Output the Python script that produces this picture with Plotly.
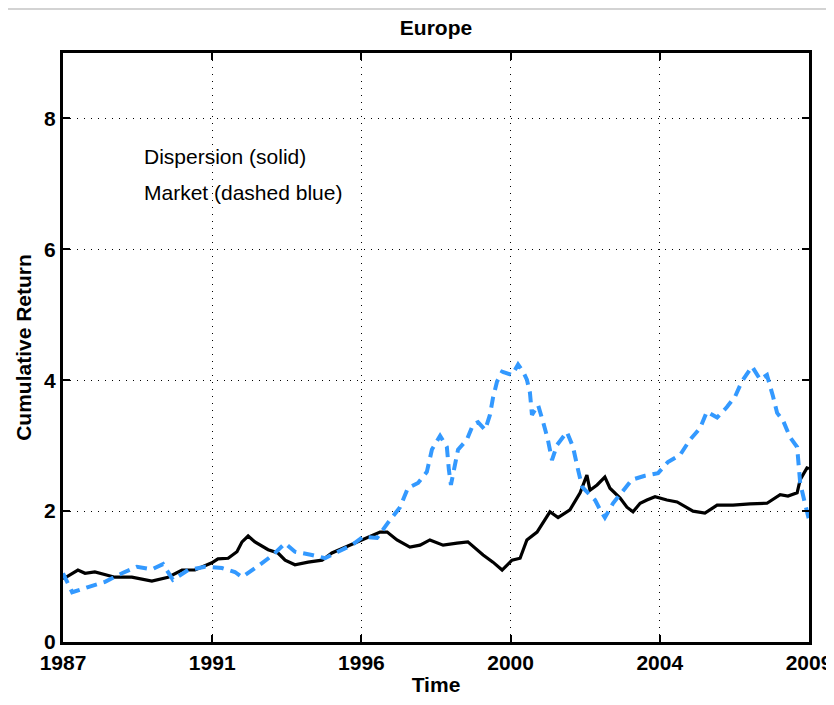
import plotly.graph_objects as go

# ---- data ----
disp_x = [1987.00, 1987.06, 1987.44, 1987.65, 1987.94, 1988.53, 1989.03, 1989.62, 1990.10,
          1990.51, 1990.89, 1991.39, 1991.57, 1991.87, 1992.13, 1992.28, 1992.46, 1992.66,
          1993.05, 1993.34, 1993.55, 1993.84, 1994.23, 1994.64, 1994.93, 1995.32, 1995.67,
          1996.35, 1996.56, 1996.85, 1997.23, 1997.53, 1997.82, 1998.21, 1998.62, 1998.94,
          1999.39, 1999.68, 1999.95, 2000.24, 2000.48, 2000.68, 2000.98, 2001.36, 2001.60,
          2001.95, 2002.25, 2002.45, 2002.54, 2002.75, 2002.98, 2003.13, 2003.43, 2003.63,
          2003.81, 2004.02, 2004.22, 2004.46, 2004.81, 2005.11, 2005.58, 2005.93, 2006.29,
          2006.76, 2007.26, 2007.76, 2008.15, 2008.38, 2008.65, 2008.74, 2008.94, 2009.00]
disp_y = [0.97, 0.98, 1.10, 1.05, 1.07, 0.99, 0.99, 0.93, 0.99,
          1.10, 1.10, 1.21, 1.27, 1.28, 1.38, 1.53, 1.62, 1.53,
          1.41, 1.36, 1.25, 1.18, 1.22, 1.25, 1.36, 1.45, 1.53,
          1.68, 1.68, 1.56, 1.45, 1.48, 1.56, 1.48, 1.51, 1.53,
          1.33, 1.22, 1.10, 1.25, 1.28, 1.56, 1.68, 1.99, 1.90,
          2.02, 2.28, 2.55, 2.32, 2.40, 2.52, 2.35, 2.20, 2.06,
          1.99, 2.12, 2.17, 2.22, 2.17, 2.14, 2.00, 1.97, 2.09,
          2.09, 2.11, 2.12, 2.25, 2.23, 2.28, 2.48, 2.66, 2.65]

mkt_x = [1987.00, 1987.27, 1987.74, 1988.24, 1988.74, 1989.18, 1989.62, 1989.95, 1990.24,
         1990.69, 1991.19, 1991.69, 1992.07, 1992.28, 1992.75, 1993.19, 1993.55, 1993.84,
         1994.34, 1994.73, 1995.11, 1995.38, 1995.52, 1995.85, 1996.26, 1996.58, 1996.94,
         1997.17, 1997.47, 1997.73, 1997.88, 1998.12, 1998.32, 1998.38, 1998.44, 1998.65,
         1998.91, 1999.09, 1999.24, 1999.45, 1999.59, 1999.68, 1999.80, 1999.95, 2000.24,
         2000.42, 2000.57, 2000.68, 2000.77, 2000.83, 2001.01, 2001.16, 2001.30, 2001.42,
         2001.57, 2001.86, 2002.04, 2002.19, 2002.31, 2002.48, 2002.69, 2002.84, 2002.98,
         2003.22, 2003.49, 2003.78, 2004.16, 2004.55, 2004.84, 2005.20, 2005.49, 2005.79,
         2005.99, 2006.29, 2006.58, 2006.82, 2007.02, 2007.32, 2007.56, 2007.76, 2007.94,
         2008.06, 2008.23, 2008.44, 2008.65, 2008.68, 2008.74, 2008.88, 2008.97, 2009.00]
mkt_y = [1.05, 0.76, 0.84, 0.92, 1.05, 1.15, 1.11, 1.19, 0.95,
         1.10, 1.15, 1.13, 1.07, 0.99, 1.16, 1.33, 1.51, 1.38,
         1.33, 1.28, 1.38, 1.44, 1.48, 1.61, 1.59, 1.82, 2.06,
         2.35, 2.43, 2.60, 2.94, 3.15, 2.98, 2.63, 2.40, 2.94,
         3.09, 3.32, 3.36, 3.24, 3.47, 3.73, 3.98, 4.13, 4.08,
         4.24, 4.13, 4.01, 3.81, 3.47, 3.62, 3.36, 3.09, 2.78,
         3.01, 3.21, 2.98, 2.63, 2.37, 2.28, 2.17, 2.02, 1.90,
         2.12, 2.29, 2.48, 2.54, 2.58, 2.75, 2.86, 3.09, 3.27,
         3.52, 3.43, 3.59, 3.75, 3.98, 4.21, 4.01, 4.08, 3.75,
         3.50, 3.39, 3.13, 2.98, 2.78, 2.43, 2.12, 1.97, 1.87]

x_tick_vals = [1987.0, 1991.4, 1995.8, 2000.2, 2004.6, 2009.0]
x_tick_text = ["1987", "1991", "1996", "2000", "2004", "2009"]
y_tick_vals = [0, 2, 4, 6, 8]

note_x = 1989.33
note_y = [7.42, 6.87]
note_text = ["Dispersion (solid)", "Market (dashed blue)"]

FONT = "Liberation Sans, Arial, sans-serif"

fig = go.Figure()
fig.add_trace(go.Scatter(x=disp_x, y=disp_y, mode="lines",
                         line=dict(color="black", width=3.2), showlegend=False))
fig.add_trace(go.Scatter(x=mkt_x, y=mkt_y, mode="lines",
                         line=dict(color="#3399FF", width=4, dash="11px,7px"),
                         showlegend=False))

for t, yy in zip(note_text, note_y):
    fig.add_annotation(x=note_x, y=yy, text=t, showarrow=False, xanchor="left",
                       yanchor="middle", font=dict(family=FONT, size=21, color="black"))

axis_common = dict(showline=True, linecolor="black", linewidth=3, mirror="ticks",
                   ticks="inside", ticklen=7, tickwidth=2, tickcolor="black",
                   showgrid=True, gridcolor="black", gridwidth=1, griddash="1px,6px",
                   zeroline=False,
                   tickfont=dict(family=FONT, size=21, color="black", weight="bold"))

fig.update_xaxes(range=[1987, 2009], tickvals=x_tick_vals, ticktext=x_tick_text,
                 title=dict(text="Time", standoff=5,
                            font=dict(family=FONT, size=21, color="black", weight="bold")),
                 **axis_common)
fig.update_yaxes(range=[0, 9], tickvals=y_tick_vals,
                 title=dict(text="Cumulative Return", standoff=7,
                            font=dict(family=FONT, size=21, color="black", weight="bold")),
                 **axis_common)

fig.update_layout(
    width=834, height=705,
    margin=dict(l=55, r=33, t=45, b=71, autoexpand=False),
    paper_bgcolor="white", plot_bgcolor="white",
    title=dict(text="Europe", x=0.5, xref="paper", xanchor="center", y=0.972, yanchor="middle",
               font=dict(family=FONT, size=21, color="black", weight="bold")),
    shapes=[
        dict(type="line", xref="paper", yref="paper", x0=-0.0751, x1=1.2, y0=1.0745, y1=1.0745,
             line=dict(color="#c4c4c4", width=1.5), layer="below"),
        dict(type="line", xref="paper", yref="paper", x0=-0.0751, x1=-0.0751, y0=-0.2, y1=1.0745,
             line=dict(color="#c4c4c4", width=1.5), layer="below"),
    ],
)

fig.write_html("out.html")
